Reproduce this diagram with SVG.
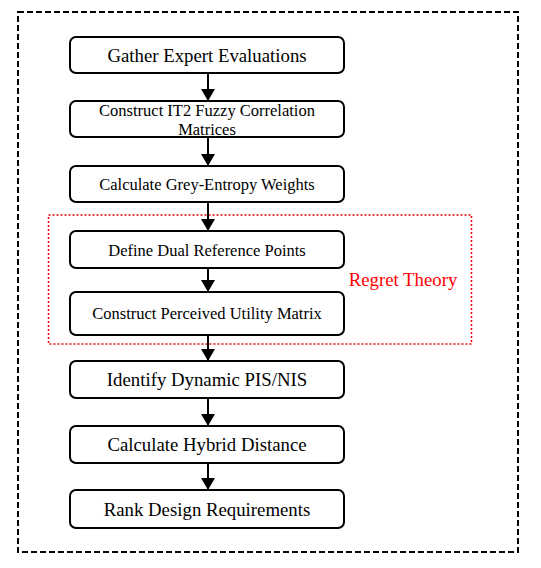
<svg xmlns="http://www.w3.org/2000/svg" width="541" height="568" viewBox="0 0 541 568">
<style>
.box{fill:#fff;stroke:#000;stroke-width:2}
.t{font-family:"Liberation Serif","Times New Roman",serif;fill:#000;text-anchor:middle}
.l{font-size:18.8px}
.s{font-size:16.5px}
.c line{stroke:#000;stroke-width:2}
</style>
<defs>
<marker id="ah" markerWidth="6" markerHeight="7" refX="5.5" refY="3.5" orient="auto" markerUnits="strokeWidth">
<path d="M0,0 L6,3.5 L0,7 Z" fill="#000"/>
</marker>
</defs>
<rect x="18" y="12" width="500" height="540" fill="none" stroke="#000" stroke-width="2" stroke-dasharray="6,3"/>
<g id="regret">
<rect x="48.5" y="215" width="423" height="129" fill="none" stroke="#e00" stroke-width="1.5" stroke-dasharray="2,2"/>
<text class="t" x="403" y="286" style="font-size:18.8px;fill:#f00">Regret Theory</text>
</g>
<g class="c" id="connectors">
<line x1="208" y1="73" x2="208" y2="100" marker-end="url(#ah)"/>
<line x1="208" y1="137" x2="208" y2="165" marker-end="url(#ah)"/>
<line x1="208" y1="202" x2="208" y2="230" marker-end="url(#ah)"/>
<line x1="208" y1="268" x2="208" y2="291" marker-end="url(#ah)"/>
<line x1="208" y1="335" x2="208" y2="360" marker-end="url(#ah)"/>
<line x1="208" y1="398" x2="208" y2="425" marker-end="url(#ah)"/>
<line x1="208" y1="463" x2="208" y2="489" marker-end="url(#ah)"/>
</g>
<g id="n1"><rect class="box" x="70" y="37" width="274" height="36" rx="6"/><text class="t l" x="207" y="62">Gather Expert Evaluations</text></g>
<g id="n2"><rect class="box" x="70" y="101" width="274" height="36" rx="6"/><text class="t s" x="207" y="116">Construct IT2 Fuzzy Correlation</text><text class="t s" x="207" y="135">Matrices</text></g>
<g id="n3"><rect class="box" x="70" y="166" width="274" height="36" rx="6"/><text class="t s" x="207" y="190">Calculate Grey-Entropy Weights</text></g>
<g id="n4"><rect class="box" x="70" y="231" width="274" height="37" rx="6"/><text class="t s" x="207" y="256">Define Dual Reference Points</text></g>
<g id="n5"><rect class="box" x="70" y="292" width="274" height="43" rx="6"/><text class="t s" x="207" y="319">Construct Perceived Utility Matrix</text></g>
<g id="n6"><rect class="box" x="70" y="361" width="274" height="37" rx="6"/><text class="t l" x="207" y="386">Identify Dynamic PIS/NIS</text></g>
<g id="n7"><rect class="box" x="70" y="426" width="274" height="37" rx="6"/><text class="t l" x="207" y="451">Calculate Hybrid Distance</text></g>
<g id="n8"><rect class="box" x="70" y="490" width="274" height="38" rx="6"/><text class="t l" x="207" y="516">Rank Design Requirements</text></g>
</svg>
